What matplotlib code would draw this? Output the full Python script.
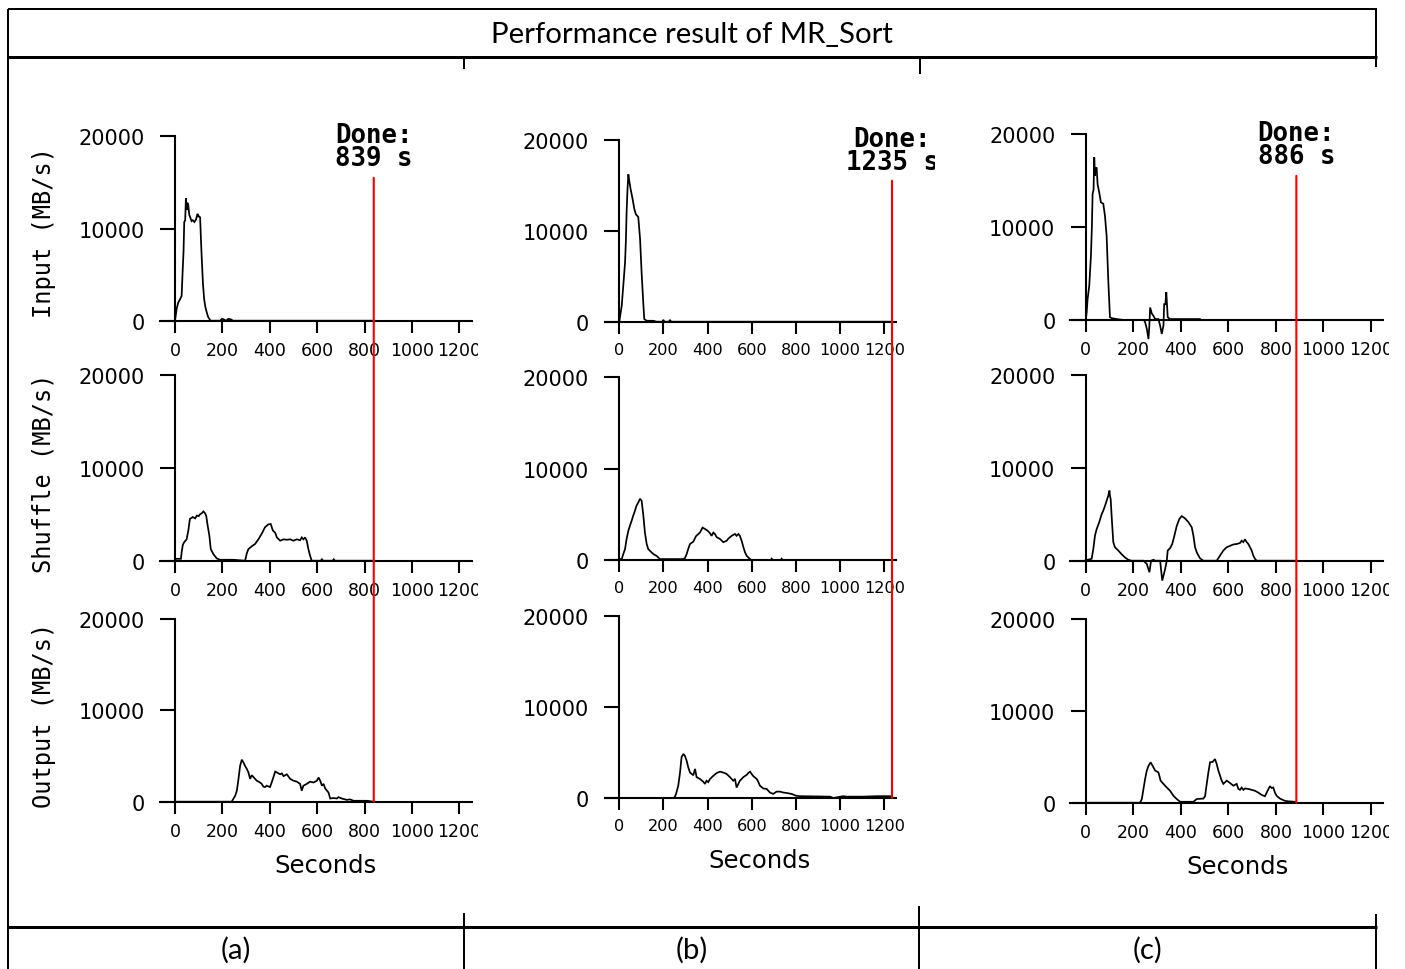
import numpy as np
import matplotlib
matplotlib.use("Agg")
import matplotlib.pyplot as plt
from matplotlib.lines import Line2D
from matplotlib.patches import ConnectionPatch
from matplotlib.transforms import Bbox, blended_transform_factory

# ---------------- data (seconds, MB/s) ----------------
title = "Performance result of MR_Sort"
panel_labels = ["(a)", "(b)", "(c)"]
row_labels = ["Input (MB/s)", "Shuffle (MB/s)", "Output (MB/s)"]
x_ticks = [0, 200, 400, 600, 800, 1000, 1200]
x_tick_labels = ["0", "200", "400", "600", "800", "1000", "1200"]
y_ticks = [0, 10000, 20000]
y_tick_labels = ["0", "10000", "20000"]
done_times = [839, 1235, 886]

a_input = [(0, 0), (7, 1300), (14, 2000), (21, 2300), (28, 2700), (32, 5200), (36, 7500),
           (39, 10700), (43, 10900), (46, 13300), (49, 12000), (52, 12800), (56, 12600),
           (60, 11500), (63, 11300), (70, 10800), (75, 10900), (82, 10700), (89, 11000),
           (95, 11600), (99, 11300), (103, 11300), (106, 11200), (110, 8500), (113, 6700),
           (118, 4000), (123, 2350), (128, 1500), (134, 900), (140, 400), (145, 200),
           (150, 0), (190, 0), (198, 200), (205, 150), (215, 0), (225, 200), (235, 150),
           (245, 0), (839, 0)]
a_shuffle = [(0, 200), (25, 200), (28, 900), (33, 1700), (39, 2000), (49, 2300), (56, 3200),
             (63, 4500), (70, 4600), (75, 4700), (85, 4550), (92, 4850), (100, 4800),
             (106, 5000), (113, 5100), (120, 5300), (127, 5100), (132, 4800), (137, 3900),
             (145, 2700), (151, 1250), (162, 700), (176, 250), (190, 100), (246, 100),
             (296, 0), (303, 800), (310, 1250), (324, 1550), (338, 1800), (352, 2300),
             (366, 2900), (380, 3600), (394, 3900), (404, 3950), (413, 3250), (423, 3000),
             (430, 2500), (444, 2150), (458, 2300), (472, 2250), (486, 2300), (500, 2150),
             (514, 2300), (528, 2200), (535, 2500), (542, 2300), (549, 2500), (556, 2150),
             (563, 1250), (570, 550), (577, 0), (615, 0), (620, 150), (625, 0), (665, 0),
             (670, 150), (675, 0), (839, 0)]
a_output = [(0, 0), (239, 0), (246, 300), (254, 650), (261, 1200), (268, 2500), (275, 3950),
            (282, 4600), (289, 4300), (296, 3900), (303, 3600), (310, 3200), (317, 2500),
            (324, 2900), (331, 2700), (338, 2500), (345, 2300), (359, 2100), (366, 1950),
            (373, 1650), (380, 1600), (387, 1750), (401, 1600), (408, 2100), (415, 2650),
            (423, 3300), (430, 3200), (444, 3000), (451, 3100), (458, 2800), (472, 3000),
            (486, 2500), (500, 2300), (514, 2200), (528, 1950), (535, 1200), (542, 1750),
            (556, 1950), (570, 2200), (585, 2100), (599, 2300), (606, 2650), (613, 2300),
            (620, 1750), (627, 1950), (634, 1450), (648, 1000), (655, 350), (669, 400),
            (683, 350), (690, 500), (704, 350), (725, 200), (739, 250), (754, 100),
            (810, 100), (839, 0)]

b_input = [(0, 0), (3, 500), (11, 1750), (18, 3950), (26, 6500), (30, 9000), (33, 12000),
           (37, 14500), (41, 16200), (45, 15500), (51, 14600), (56, 14000), (60, 13500),
           (68, 12400), (75, 11800), (86, 11500), (94, 9100), (101, 5400), (109, 1900),
           (113, 300), (124, 100), (154, 100), (169, 0), (195, 0), (199, 200), (205, 0),
           (225, 0), (229, 200), (235, 0), (1235, 0)]
b_shuffle = [(0, 100), (11, 100), (18, 650), (26, 1200), (33, 2300), (41, 3200), (48, 3750),
             (56, 4300), (63, 4850), (71, 5400), (78, 5950), (86, 6300), (94, 6700),
             (101, 6500), (109, 4850), (116, 3000), (124, 1750), (131, 1200), (139, 1000),
             (154, 650), (169, 450), (184, 100), (199, 100), (275, 100), (290, 100),
             (297, 200), (305, 650), (312, 1200), (320, 1750), (335, 2000), (347, 2600),
             (358, 2850), (365, 3000), (377, 3550), (388, 3400), (400, 3200), (410, 2950),
             (418, 2650), (426, 3000), (433, 2850), (441, 2500), (456, 2300), (471, 1950),
             (486, 2100), (494, 2350), (509, 2650), (524, 2850), (531, 2650), (539, 2850),
             (546, 2650), (554, 2100), (562, 1400), (569, 850), (577, 450), (592, 100),
             (599, 0), (685, 0), (690, 150), (695, 0), (730, 0), (735, 150), (740, 0),
             (1235, 0)]
b_output = [(0, 0), (249, 0), (257, 450), (267, 1350), (275, 2800), (282, 4500), (290, 4850),
            (297, 4650), (305, 4100), (312, 3400), (320, 2800), (328, 2650), (335, 2500),
            (343, 3200), (350, 2300), (365, 2100), (380, 1800), (388, 1550), (395, 1900),
            (403, 1750), (411, 2100), (426, 2450), (441, 2750), (456, 2900), (471, 2800),
            (486, 2650), (501, 2300), (516, 1900), (524, 2100), (531, 1150), (539, 1550),
            (546, 1900), (562, 2300), (577, 2550), (584, 2750), (592, 2900), (599, 2650),
            (607, 2400), (622, 2100), (629, 1800), (637, 1350), (652, 1050), (667, 1000),
            (682, 600), (697, 450), (712, 700), (728, 700), (743, 600), (758, 550),
            (780, 450), (800, 250), (818, 200), (954, 150), (969, 0), (1014, 200),
            (1029, 150), (1105, 150), (1165, 200), (1235, 200)]

c_input = [(0, 0), (4, 800), (8, 2250), (15, 3700), (22, 6900), (26, 10000), (29, 13550),
           (33, 14000), (36, 17500), (39, 15500), (41, 16250), (46, 16400), (50, 14600),
           (57, 13700), (64, 12650), (74, 12500), (81, 11200), (88, 9050), (95, 4250),
           (102, 300), (109, 200), (130, 100), (160, 0), (245, 0), (250, -250), (257, -950),
           (264, -2050), (268, -500), (271, 1350), (278, 700), (285, 450), (292, 100),
           (306, 100), (313, -600), (320, -1500), (327, -600), (330, 1700), (335, 1700),
           (339, 3000), (345, 300), (355, 100), (481, 100), (486, 0), (886, 0)]
c_shuffle = [(0, 50), (25, 200), (32, 1250), (39, 2700), (46, 3400), (57, 4150), (67, 5000),
             (74, 5400), (81, 5900), (88, 6450), (95, 7000), (100, 7550), (102, 7000),
             (105, 6650), (109, 4850), (116, 2000), (123, 1450), (137, 1100), (151, 700),
             (165, 350), (179, 100), (193, 0), (243, 0), (257, -350), (268, -1250), (275, 0),
             (285, 100), (292, 0), (313, 0), (322, -2150), (334, -900), (341, 0), (345, 1100),
             (355, 1350), (364, 1800), (373, 2700), (383, 3750), (394, 4500), (404, 4800),
             (418, 4550), (432, 4150), (446, 3600), (453, 2700), (460, 1450), (467, 900),
             (481, 250), (495, 0), (551, 0), (565, 550), (579, 1100), (593, 1450),
             (607, 1600), (621, 1750), (635, 1800), (649, 1900), (656, 2150), (663, 2000),
             (670, 2300), (677, 2000), (684, 1800), (691, 1450), (698, 1100), (705, 550),
             (712, 200), (719, 0), (886, 0)]
c_output = [(0, 0), (229, 0), (236, 400), (243, 1500), (250, 2600), (257, 3500), (264, 4000),
            (273, 4400), (285, 3850), (292, 3500), (306, 3300), (315, 2400), (327, 2050),
            (341, 1650), (355, 1300), (369, 750), (383, 400), (397, 100), (453, 100),
            (467, 400), (495, 450), (502, 700), (508, 1850), (516, 3300), (523, 4400),
            (534, 4450), (544, 4750), (551, 4200), (558, 3500), (565, 2950), (572, 2400),
            (579, 2050), (593, 2400), (607, 2150), (621, 1850), (635, 2050), (642, 1500),
            (649, 1400), (656, 1650), (663, 1400), (670, 1550), (684, 1500), (698, 1400),
            (712, 1300), (726, 1100), (740, 850), (754, 700), (765, 1300), (775, 1800),
            (782, 1600), (789, 1650), (796, 1100), (803, 750), (817, 450), (838, 200),
            (852, 150), (880, 100), (886, 0)]

series = [[a_input, a_shuffle, a_output],
          [b_input, b_shuffle, b_output],
          [c_input, c_shuffle, c_output]]

# ---------------- layout (pixels of the 1405x970 canvas) ----------------
W, H = 1405, 970
DPI = 100
fig = plt.figure(figsize=(W / DPI, H / DPI), dpi=DPI)
fig.patch.set_facecolor("white")


def fx(x):
    return x / W


def fy(y):
    return 1 - y / H


XMIN, XMAX = -65, 1252
YMIN, YMAX = -3000, 20500

layout = [
    dict(x0=175.0, x1200=459.3, rows=[(321.7, 137.3), (561.7, 375.7), (802.7, 620.0)],
         clip=478, sec_y=866, xts=12.5),
    dict(x0=619.3, x1200=884.3, rows=[(322.7, 140.7), (561.0, 378.3), (799.0, 617.3)],
         clip=935, sec_y=861, xts=11.6),
    dict(x0=1085.7, x1200=1371.0, rows=[(321.0, 135.0), (561.7, 376.0), (803.7, 620.0)],
         clip=1389, sec_y=867, xts=12.5),
]
ylabel_centers = [233, 473, 715]

MONO = "DejaVu Sans Mono"
SANS = "DejaVu Sans"

for p, lay in enumerate(layout):
    pxs = (lay["x1200"] - lay["x0"]) / 1200.0
    left = lay["x0"] + XMIN * pxs
    right = lay["x0"] + XMAX * pxs
    clipbox = Bbox.from_extents(0, 0, lay["clip"], H)
    axes = []
    for r, (y0, y20) in enumerate(lay["rows"]):
        ppu = (y0 - y20) / 20000.0
        top = y0 - YMAX * ppu
        bot = y0 - YMIN * ppu
        ax = fig.add_axes([fx(left), fy(bot), (right - left) / W, (bot - top) / H])
        ax.set_xlim(XMIN, XMAX)
        ax.set_ylim(YMIN, YMAX)
        ax.patch.set_visible(False)
        data = np.array(series[p][r], dtype=float)
        ax.plot(data[:, 0], data[:, 1], color="black", lw=1.25, clip_on=False,
                solid_joinstyle="miter")
        for s in ("top", "right"):
            ax.spines[s].set_visible(False)
        ax.spines["left"].set_position(("data", 0))
        ax.spines["left"].set_bounds(0, 20000)
        ax.spines["bottom"].set_position(("data", 0))
        for s in ("left", "bottom"):
            ax.spines[s].set_linewidth(1.5)
        ax.set_xticks(x_ticks)
        ax.set_xticklabels(x_tick_labels)
        ax.set_yticks(y_ticks)
        ax.set_yticklabels(y_tick_labels)
        ax.tick_params(axis="x", direction="out", length=8.6, width=1.5, pad=5.8,
                       labelsize=lay["xts"], labelfontfamily=SANS)
        ax.tick_params(axis="y", direction="out", length=10.8, width=1.5, pad=11,
                       labelsize=15, labelfontfamily=SANS)
        for lab in ax.get_xticklabels() + ax.get_yticklabels():
            lab.set_clip_path(None)
            lab.set_clip_on(True)
            lab.set_clip_box(clipbox)
        if p == 0:
            ax.set_ylabel(row_labels[r], family=MONO, fontsize=17)
            ax.yaxis.label.set_va("center")
            ax.yaxis.set_label_coords(fx(44), fy(ylabel_centers[r]), transform=fig.transFigure)
        if r == 2:
            ax.set_xlabel("Seconds", family=SANS, fontsize=17.5)
            ax.xaxis.label.set_va("center")
            ax.xaxis.set_label_coords(637, fy(lay["sec_y"]),
                                      transform=blended_transform_factory(ax.transData,
                                                                          fig.transFigure))
        axes.append(ax)

    done = done_times[p]
    t = fig.text(done, 18850, f"Done:\n{done} s", transform=axes[0].transData,
                 ha="center", va="center", multialignment="center", family=MONO,
                 fontweight="bold", fontsize=18.5, linespacing=0.85)
    t.set_clip_on(True)
    t.set_clip_box(clipbox)
    cp = ConnectionPatch(xyA=(done, 15500), coordsA=axes[0].transData,
                         xyB=(done, 0), coordsB=axes[2].transData,
                         color="red", lw=1.5)
    fig.add_artist(cp)

# ---------------- table frame ----------------
frame = [
    ((8, 1377), (10, 10), 2.0),
    ((8, 8), (10, 970), 2.0),
    ((1376, 1376), (10, 68), 2.0),
    ((8, 1377), (58, 58), 3.0),
    ((464, 464), (58, 70), 2.0),
    ((920, 920), (58, 75), 2.0),
    ((8, 1377), (928, 928), 3.0),
    ((464, 464), (914, 970), 2.0),
    ((919, 919), (907, 970), 2.0),
    ((1376, 1376), (915, 970), 2.0),
]
for xs, ys, lw in frame:
    fig.add_artist(Line2D([fx(v) for v in xs], [fy(v) for v in ys],
                          transform=fig.transFigure, color="black", lw=lw * 0.72,
                          solid_capstyle="butt"))

TITLE_FONT = "Lato"
tt = fig.text(fx(691.5), fy(35), title, ha="center", va="center", family=TITLE_FONT,
              fontsize=17)
renderer = fig.canvas.get_renderer()
wpx = tt.get_window_extent(renderer).width
size = 17 * 402.0 / wpx
tt.set_fontsize(size)

for lab, cx in zip(panel_labels, [236, 691.5, 1147.5]):
    fig.text(fx(cx), fy(950), lab, ha="center", va="center", family=TITLE_FONT,
             fontsize=size)

fig.savefig("out.png", dpi=DPI, facecolor="white")
